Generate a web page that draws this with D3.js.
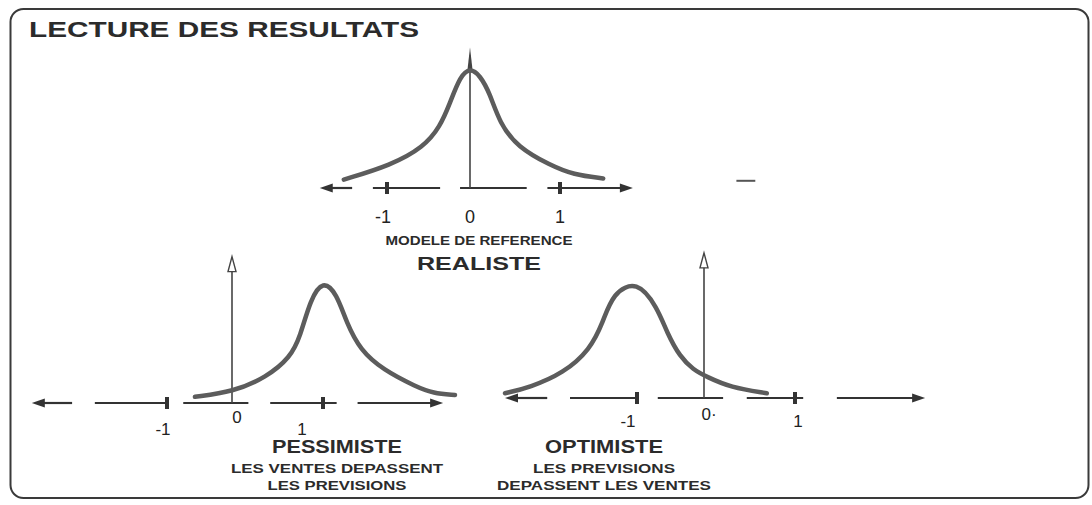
<!DOCTYPE html>
<html>
<head>
<meta charset="utf-8">
<script src="https://cdn.jsdelivr.net/npm/d3@7"></script>
<style>
  body { margin: 0; background: #fff; }
  text { font-family: "Liberation Sans", Arial, sans-serif; fill: #2b2b2b; }
</style>
</head>
<body>
<div id="chart"></div>
<script>
// tick values shared by the three panels
const ticks = [-1, 0, 1];

// REALISTE (reference model) curve, x in sigma units, y as share of peak
const realisteX = [-1.52, -0.95, -0.56, -0.36, -0.24, -0.12, 0, 0.11, 0.22, 0.33, 0.53, 0.89, 1.15, 1.48];
const realisteY = [0.07, 0.19, 0.34, 0.51, 0.71, 0.93, 1.0, 0.94, 0.79, 0.54, 0.34, 0.19, 0.11, 0.08];

// PESSIMISTE curve (shifted to +1)
const pessimisteX = [-0.57, 0.01, 0.38, 0.64, 0.75, 0.86, 1.0, 1.15, 1.26, 1.41, 1.66, 2.03, 2.21, 2.45];
const pessimisteY = [0.05, 0.09, 0.21, 0.37, 0.54, 0.84, 1.0, 0.89, 0.65, 0.43, 0.27, 0.13, 0.08, 0.065];

// OPTIMISTE curve (shifted to -1)
const optimisteX = [-2.97, -2.60, -2.10, -1.70, -1.51, -1.36, -1.0, -0.70, -0.55, -0.36, -0.16, 0.03, 0.29, 0.69];
const optimisteY = [0.04, 0.09, 0.21, 0.41, 0.64, 0.89, 1.0, 0.77, 0.55, 0.35, 0.24, 0.18, 0.09, 0.04];

// broken horizontal axis pieces (from, to) in sigma units
const realisteAxis = [[-1.81, -1.42], [-1.17, -0.36], [-0.12, 0.63], [0.86, 1.81]];
const pessimisteAxis = [[-3.08, -2.46], [-2.11, -1.0], [-0.75, 0.18], [0.42, 1.15], [1.38, 2.32]];
const optimisteAxis = [[-2.97, -2.34], [-2.0, -1.0], [-0.69, 0.21], [0.47, 1.09], [1.46, 2.43]];

const title = "LECTURE DES RESULTATS";
const realisteText = ["MODELE DE REFERENCE", "REALISTE"];
const pessimisteText = ["PESSIMISTE", "LES VENTES DEPASSENT", "LES PREVISIONS"];
const optimisteText = ["OPTIMISTE", "LES PREVISIONS", "DEPASSENT LES VENTES"];

const width = 1092, height = 505;

const svg = d3.select("#chart")
  .append("svg")
    .attr("width", width)
    .attr("height", height);

// frame
svg.append("rect")
  .attr("x", 10.5).attr("y", 9)
  .attr("width", 1078).attr("height", 489)
  .attr("rx", 13)
  .attr("fill", "none")
  .attr("stroke", "#3a3a3a")
  .attr("stroke-width", 2);

svg.append("text")
  .attr("x", 29).attr("y", 37)
  .attr("textLength", 390).attr("lengthAdjust", "spacingAndGlyphs")
  .style("font-size", "22px").style("font-weight", "bold")
  .text(title);

const line = d3.line().curve(d3.curveBasis);

function drawPanel(p) {
  const g = svg.append("g");
  const x = p.x, y = p.y;

  // axis pieces
  p.axis.forEach((s, i) => {
    let x1 = x(s[0]), x2 = x(s[1]);
    const y0 = y(0);
    if (i == 0) {
      g.append("path")
        .attr("d", `M${x1},${y0} L${x1 + 13},${y0 - 4.5} L${x1 + 13},${y0 + 4.5} Z`)
        .attr("fill", "#333");
      x1 += 12;
    }
    if (i == p.axis.length - 1) {
      g.append("path")
        .attr("d", `M${x2},${y0} L${x2 - 13},${y0 - 4.5} L${x2 - 13},${y0 + 4.5} Z`)
        .attr("fill", "#333");
      x2 -= 12;
    }
    g.append("line")
      .attr("x1", x1).attr("x2", x2)
      .attr("y1", y0).attr("y2", y0)
      .attr("stroke", "#333")
      .attr("stroke-width", 2.2);
  });

  // tick bars at -1 and 1
  g.selectAll(".tick")
    .data(ticks.filter(t => t != 0))
    .enter()
    .append("rect")
      .attr("x", d => x(d) - 2)
      .attr("y", y(0) - 6)
      .attr("width", 4)
      .attr("height", 12)
      .attr("fill", "#333");

  // vertical axis
  const top = y(p.vTop);
  g.append("line")
    .attr("x1", x(0)).attr("x2", x(0))
    .attr("y1", y(0)).attr("y2", top + 8)
    .attr("stroke", "#444")
    .attr("stroke-width", 1.6);
  if (p.spike) {
    g.append("path")
      .attr("d", `M${x(0)},${top} L${x(0) + 2.5},${top + 22} L${x(0) - 2.5},${top + 22} Z`)
      .attr("fill", "#444");
  } else {
    g.append("path")
      .attr("d", `M${x(0)},${top} L${x(0) + 4},${top + 15} L${x(0) - 4},${top + 15} Z`)
      .attr("fill", "#fff")
      .attr("stroke", "#444")
      .attr("stroke-width", 1.4);
  }

  // curve
  const pts = p.cx.map((v, i) => [x(v), y(p.cy[i])]);
  g.append("path")
    .attr("d", line(pts))
    .attr("fill", "none")
    .attr("stroke", "#5c5c5c")
    .attr("stroke-width", 4.5)
    .attr("stroke-linecap", "round");

  // tick labels
  g.selectAll(".lab")
    .data(ticks)
    .enter()
    .append("text")
      .attr("x", d => p.lx(d))
      .attr("y", d => d == 0 ? p.labY - p.zeroUp : p.labY)
      .attr("text-anchor", "middle")
      .style("font-size", p.labSize + "px")
      .style("fill", "#222")
      .text(d => d == 0 && p.zeroDot ? "0·" : (d < 0 ? "-1" : d));

  // captions
  p.text.forEach((t, i) => {
    g.append("text")
      .attr("x", p.tx)
      .attr("y", p.ty[i])
      .attr("text-anchor", "middle")
      .attr("textLength", p.tw[i]).attr("lengthAdjust", "spacingAndGlyphs")
      .style("font-size", p.ts[i] + "px")
      .style("font-weight", "bold")
      .text(t);
  });
}

// reference model, top centre
const xTop = d3.scaleLinear().domain([-1, 0, 1]).range([387, 470, 560]);
const yTop = d3.scaleLinear().domain([0, 1]).range([188, 68]);
drawPanel({
  x: xTop, y: yTop,
  lx: d3.scaleLinear().domain([-1, 0, 1]).range([383, 470, 560]),
  labY: 223, zeroUp: 0, labSize: 18,
  axis: realisteAxis, cx: realisteX, cy: realisteY,
  vTop: 1.17, spike: true,
  text: realisteText, tx: 479, ty: [245, 270], tw: [187, 124], ts: [12, 18]
});

// pessimistic model, bottom left
drawPanel({
  x: d3.scaleLinear().domain([-1, 0, 1]).range([167, 232, 323]),
  y: d3.scaleLinear().domain([0, 1]).range([403, 280]),
  lx: d3.scaleLinear().domain([-1, 0, 1]).range([163, 237, 302]),
  labY: 435, zeroUp: 12, labSize: 17,
  axis: pessimisteAxis, cx: pessimisteX, cy: pessimisteY,
  vTop: 1.19, spike: false,
  text: pessimisteText, tx: 337, ty: [453, 473, 490], tw: [130, 212, 139], ts: [18, 12, 12]
});

// optimistic model, bottom right
drawPanel({
  x: d3.scaleLinear().domain([-1, 0, 1]).range([637, 704, 795]),
  y: d3.scaleLinear().domain([0, 1]).range([398, 280]),
  lx: d3.scaleLinear().domain([-1, 0, 1]).range([628, 709, 798]),
  labY: 427, zeroUp: 7, labSize: 17, zeroDot: true,
  axis: optimisteAxis, cx: optimisteX, cy: optimisteY,
  vTop: 1.23, spike: false,
  text: optimisteText, tx: 604, ty: [453, 473, 490], tw: [118, 142, 214], ts: [18, 12, 12]
});

// stray dash to the right of the top panel
svg.append("line")
  .attr("x1", xTop(2.96)).attr("x2", xTop(3.17))
  .attr("y1", yTop(0.06)).attr("y2", yTop(0.06))
  .attr("stroke", "#555")
  .attr("stroke-width", 2);
</script>
</body>
</html>
